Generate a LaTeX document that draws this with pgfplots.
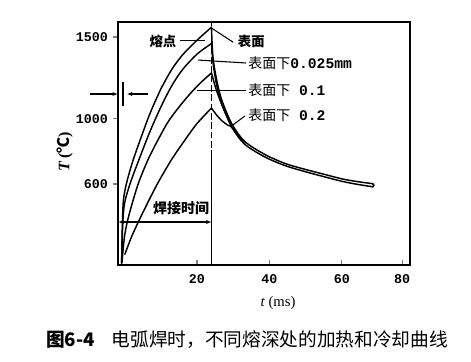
\documentclass[border=0pt]{standalone}
\usepackage{pgfplots}
\pgfplotsset{compat=1.18}
\usetikzlibrary{arrows.meta}
\usepackage{fontspec}
\setmainfont{Liberation Serif}
\setmonofont{Liberation Mono}
\newfontfamily\cjk{Noto Sans CJK SC}
\begin{document}
\begin{tikzpicture}
\useasboundingbox (-88.5pt,-72pt) rectangle (264.75pt,198.75pt);
\begin{axis}[
  at={(0,0)}, anchor=south west,
  width=219pt, height=182.25pt, scale only axis,
  xmin=-1.8, xmax=78.8, ymin=104, ymax=1592,
  clip=false,
  axis line style={line width=1.3pt},
  tick align=outside, major tick length=4pt,
  xtick pos=bottom, ytick pos=left,
  xtick={20,40,60,76.6}, xticklabels={20,40,60,80},
  ytick={600,1000,1500}, yticklabels={600,1000,1500},
  x tick style={yshift=4pt, line width=0.8pt},
  y tick style={line width=0.8pt},
  tick label style={font=\ttfamily\bfseries\fontsize{10}{11}\selectfont},
  every axis plot/.append style={line width=1.1pt, black, line cap=round, line join=round},
]
% heating curves
\addplot[smooth, tension=0.5] coordinates {(-0.8,115) (-0.6,350) (-0.3,500) (0.5,600) (2,720) (4,850) (7,1030) (10,1180) (13,1300) (16,1390) (20,1480) (24,1560)};
\addplot[smooth, tension=0.5] coordinates {(-0.8,115) (-0.5,350) (0,480) (1.5,600) (4,750) (7,920) (10,1070) (13,1200) (16,1300) (20,1395) (24,1460)};
\addplot[smooth, tension=0.5] coordinates {(-0.7,120) (0,280) (1,390) (2.5,510) (4,615) (6.5,750) (9,860) (12,980) (15,1070) (18,1150) (21,1220) (24,1280)};
\addplot[smooth, tension=0.5] coordinates {(0.1,170) (2,280) (4.3,390) (6.5,490) (9.2,606) (13,750) (16.7,870) (20,970) (24,1065)};
% cooling curves
\addplot[smooth, tension=0.5] coordinates {(24,1560) (24.4,1380) (25.5,1230) (26.9,1110) (29.7,965) (33.2,860) (38.8,780) (44.4,725) (49.8,690) (55,660) (60.3,630) (64.5,614) (68.5,602)};
\addplot[smooth, tension=0.5] coordinates {(24,1460) (24.5,1330) (25.5,1200) (26.9,1085) (29.7,945) (33.2,843) (38.8,765) (44.4,712) (49.8,676) (55,645) (60.3,615) (64.5,597) (68.5,583)};
\addplot[smooth, tension=0.5] coordinates {(24,1280) (25,1200) (26,1135) (26.9,1085) (29.7,945)};
\addplot[smooth, tension=0.5] coordinates {(24,1065) (25.5,1020) (27,985) (28.5,960) (29.7,945) (33.2,843)};
\addplot[line width=1.1pt] coordinates {(68.5,602) (68.9,592) (68.5,583)};
% welding end line
\draw[line width=0.9pt, dash pattern=on 5pt off 2pt] (axis cs:24.1,765) -- (axis cs:24.1,1592);
\draw[line width=0.9pt] (axis cs:24.1,104) -- (axis cs:24.1,765);
% welding time arrow
\draw[line width=0.9pt, {Latex[length=4pt,width=3pt]}-{Latex[length=4pt,width=3pt]}] (axis cs:-1.8,367) -- (axis cs:24.1,367);
\node[font=\cjk\bfseries\fontsize{10.5}{12}\selectfont] at (axis cs:15.6,453) {焊接时间};
% left marker
\draw[line width=0.9pt, -{Latex[length=4pt,width=3pt]}] (axis cs:-9.5,1151) -- (axis cs:-1.8,1151);
\draw[line width=0.9pt, -{Latex[length=4pt,width=3pt]}] (axis cs:6.5,1151) -- (axis cs:0.6,1151);
\draw[line width=0.9pt] (axis cs:-0.4,1080) -- (axis cs:-0.4,1225);
% labels
\node[font=\cjk\bfseries\fontsize{10}{12}\selectfont] at (axis cs:10.6,1476) {熔点};
\draw[line width=0.8pt] (axis cs:15.3,1476) -- (axis cs:22.3,1476);
\node[anchor=west, font=\cjk\bfseries\fontsize{10}{12}\selectfont] at (axis cs:30.0,1470) {表面};
\draw[line width=0.8pt] (axis cs:24,1555) -- (axis cs:30,1468);
\node[anchor=west, inner sep=0pt, font=\cjk\fontsize{10.5}{12}\selectfont] at (axis cs:34.1,1341) {表面下\ttfamily\bfseries\fontsize{11}{12}\selectfont 0.025mm};
\draw[line width=0.8pt] (axis cs:20.3,1359) -- (axis cs:33.5,1341);
\node[anchor=west, inner sep=0pt, font=\cjk\fontsize{10.5}{12}\selectfont] at (axis cs:34.1,1176) {表面下\ttfamily\bfseries\fontsize{11}{12}\selectfont\ 0.1};
\draw[line width=0.8pt] (axis cs:20,1172) -- (axis cs:33.5,1172);
\node[anchor=west, inner sep=0pt, font=\cjk\fontsize{10.5}{12}\selectfont] at (axis cs:34.1,1022) {表面下\ttfamily\bfseries\fontsize{11}{12}\selectfont\ 0.2};
\draw[line width=0.8pt] (axis cs:29.9,961) -- (axis cs:33.2,1016);
\end{axis}
% axis labels and caption
\node[rotate=90, font=\bfseries\fontsize{12}{13}\selectfont] at (-40pt,84.75pt) {\textit{T}\,({\cjk ℃})};
\node[font=\fontsize{11}{12}\selectfont] at (120pt,-28.5pt) {\textit{t} (ms)};
\node[font=\cjk\fontsize{14}{16}\selectfont] at (96.75pt,-56.25pt) {{\bfseries 图6-4}\hspace{0.9em}电弧焊时，不同熔深处的加热和冷却曲线};
\end{tikzpicture}
\end{document}
